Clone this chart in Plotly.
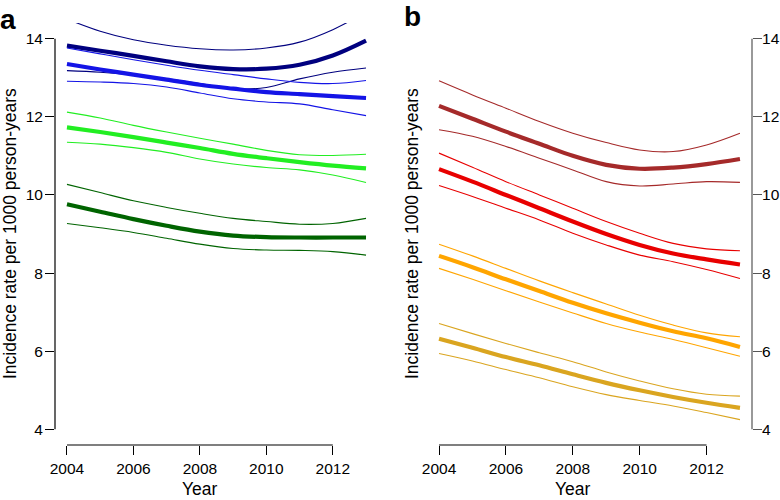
import plotly.graph_objects as go

years = [2004, 2005, 2006, 2007, 2008, 2009, 2010, 2011, 2012, 2013]
x_ticks = [2004, 2006, 2008, 2010, 2012]
y_ticks = [4, 6, 8, 10, 12, 14]

# Panel a
navy_fit = [13.82, 13.69, 13.56, 13.42, 13.29, 13.22, 13.23, 13.33, 13.57, 13.95]
navy_hi = [14.50, 14.19, 13.97, 13.83, 13.74, 13.71, 13.76, 13.91, 14.23, 14.68]
navy_lo = [13.18, 13.14, 13.07, 12.97, 12.85, 12.72, 12.75, 12.97, 13.14, 13.25]
blue_fit = [13.35, 13.21, 13.08, 12.95, 12.82, 12.72, 12.63, 12.58, 12.53, 12.48]
blue_hi = [13.76, 13.61, 13.46, 13.32, 13.19, 13.08, 12.97, 12.88, 12.85, 12.93]
blue_lo = [12.91, 12.89, 12.85, 12.76, 12.61, 12.46, 12.38, 12.33, 12.18, 12.03]
lime_fit = [11.73, 11.61, 11.48, 11.34, 11.20, 11.05, 10.94, 10.84, 10.75, 10.68]
lime_hi = [12.12, 11.97, 11.78, 11.61, 11.45, 11.30, 11.14, 11.03, 11.01, 11.04]
lime_lo = [11.35, 11.30, 11.21, 11.09, 10.92, 10.79, 10.70, 10.64, 10.51, 10.32]
dgreen_fit = [9.76, 9.57, 9.38, 9.21, 9.06, 8.96, 8.92, 8.91, 8.91, 8.91]
dgreen_hi = [10.27, 10.06, 9.85, 9.68, 9.53, 9.40, 9.32, 9.25, 9.27, 9.40]
dgreen_lo = [9.27, 9.16, 9.04, 8.89, 8.74, 8.63, 8.59, 8.58, 8.55, 8.46]

# Panel b
brown_fit = [12.28, 11.95, 11.62, 11.31, 11.00, 10.77, 10.67, 10.70, 10.79, 10.92]
brown_hi = [12.92, 12.56, 12.22, 11.88, 11.58, 11.34, 11.15, 11.11, 11.28, 11.58]
brown_lo = [11.67, 11.50, 11.24, 10.94, 10.64, 10.34, 10.23, 10.28, 10.34, 10.32]
red_fit = [10.66, 10.34, 10.00, 9.66, 9.32, 9.00, 8.72, 8.50, 8.35, 8.22]
red_hi = [11.07, 10.71, 10.34, 10.00, 9.66, 9.32, 9.02, 8.76, 8.62, 8.57]
red_lo = [10.24, 9.96, 9.66, 9.36, 9.02, 8.72, 8.46, 8.29, 8.09, 7.86]
orange_fit = [8.44, 8.15, 7.84, 7.54, 7.24, 6.97, 6.73, 6.51, 6.33, 6.11]
orange_hi = [8.74, 8.44, 8.12, 7.80, 7.50, 7.21, 6.92, 6.67, 6.47, 6.37]
orange_lo = [8.12, 7.84, 7.55, 7.26, 6.98, 6.71, 6.49, 6.30, 6.09, 5.87]
gold_fit = [6.32, 6.09, 5.85, 5.64, 5.41, 5.19, 5.00, 4.83, 4.68, 4.55]
gold_hi = [6.71, 6.45, 6.20, 5.96, 5.73, 5.47, 5.24, 5.04, 4.90, 4.85]
gold_lo = [5.94, 5.75, 5.53, 5.32, 5.09, 4.89, 4.74, 4.60, 4.43, 4.25]

panel_a = [
    ("#00007F", navy_fit, navy_hi, navy_lo),
    ("#1414E6", blue_fit, blue_hi, blue_lo),
    ("#22EE22", lime_fit, lime_hi, lime_lo),
    ("#006400", dgreen_fit, dgreen_hi, dgreen_lo),
]
panel_b = [
    ("#A52A2A", brown_fit, brown_hi, brown_lo),
    ("#E80000", red_fit, red_hi, red_lo),
    ("#FFA500", orange_fit, orange_hi, orange_lo),
    ("#DAA520", gold_fit, gold_hi, gold_lo),
]

FONT = "Liberation Sans, Arial, Helvetica, sans-serif"
fig = go.Figure()

def add_group(color, fit, hi, lo, xa, ya):
    for vals, w in ((hi, 1.1), (lo, 1.1), (fit, 4.2)):
        fig.add_trace(go.Scatter(
            x=years, y=vals, mode="lines", xaxis=xa, yaxis=ya,
            line=dict(color=color, width=w, shape="spline", smoothing=1.0),
            showlegend=False, hoverinfo="skip"))

for c, f, h, l in panel_a:
    add_group(c, f, h, l, "x", "y")
for c, f, h, l in panel_b:
    add_group(c, f, h, l, "x2", "y2")

xr = [2003.64, 2013.36]
yr = [3.6, 14.4]
common_x = dict(range=xr, tickvals=x_ticks, showgrid=False, zeroline=False, showline=False,
                ticks="outside", ticklen=9, tickwidth=1.2, tickcolor="black", automargin=False,
                tickfont=dict(family=FONT, size=15.5, color="black"))
common_y = dict(range=yr, tickvals=y_ticks, showgrid=False, zeroline=False, showline=False,
                ticks="outside", ticklen=9, tickwidth=1.2, automargin=False,
                tickfont=dict(family=FONT, size=15.5, color="black"))

fig.update_layout(
    width=780, height=500,
    margin=dict(l=55, r=28, t=23, b=55, pad=0, autoexpand=False),
    paper_bgcolor="white", plot_bgcolor="white",
    xaxis=dict(domain=[0, 0.4634], anchor="y", **common_x),
    yaxis=dict(domain=[0, 1], anchor="x", tickcolor="black", ticklabelstandoff=-1, **common_y),
    xaxis2=dict(domain=[0.5337, 1], anchor="y2", **common_x),
    yaxis2=dict(domain=[0, 1], anchor="x2", side="right", tickcolor="#555555",
                ticklabelstandoff=-3, **common_y),
)

# R-style axis lines spanning only the tick range
shapes = [
    dict(type="line", xref="x", yref="y domain", x0=x_ticks[0], x1=x_ticks[-1], y0=0, y1=0,
         line=dict(color="black", width=1.2)),
    dict(type="line", xref="x domain", yref="y", x0=0, x1=0, y0=y_ticks[0], y1=y_ticks[-1],
         line=dict(color="black", width=1.2)),
    dict(type="line", xref="x2", yref="y2 domain", x0=x_ticks[0], x1=x_ticks[-1], y0=0, y1=0,
         line=dict(color="black", width=1.2)),
    dict(type="line", xref="x2 domain", yref="y2", x0=1, x1=1, y0=y_ticks[0], y1=y_ticks[-1],
         line=dict(color="#555555", width=1.2)),
]
fig.update_layout(shapes=shapes)

ytitle = "Incidence rate per 1000 person-years"
annotations = [
    dict(text="Year", xref="x", yref="paper", x=2008, y=-0.105, xanchor="center", yanchor="middle",
         showarrow=False, font=dict(family=FONT, size=17.5, color="black")),
    dict(text="Year", xref="x2", yref="paper", x=2008, y=-0.105, xanchor="center", yanchor="middle",
         showarrow=False, font=dict(family=FONT, size=17.5, color="black")),
    dict(text=ytitle, xref="paper", yref="paper", x=(10 - 55) / 697, y=0.5, textangle=-90,
         xanchor="center", yanchor="middle", showarrow=False,
         font=dict(family=FONT, size=17.5, color="black")),
    dict(text=ytitle, xref="paper", yref="paper", x=(412 - 55) / 697, y=0.5, textangle=-90,
         xanchor="center", yanchor="middle", showarrow=False,
         font=dict(family=FONT, size=17.5, color="black")),
    dict(text="<b>a</b>", xref="paper", yref="paper", x=(8 - 55) / 697, y=(444.6 - 20) / 421.6,
         xanchor="center", yanchor="middle", showarrow=False,
         font=dict(family=FONT, size=28, color="black")),
    dict(text="<b>b</b>", xref="paper", yref="paper", x=(412 - 55) / 697, y=(444.6 - 17) / 421.6,
         xanchor="center", yanchor="middle", showarrow=False,
         font=dict(family=FONT, size=28, color="black")),
]
fig.update_layout(annotations=annotations)

fig.write_html("out.html", config={"displayModeBar": False},
               post_script="document.body.style.margin='0';")
